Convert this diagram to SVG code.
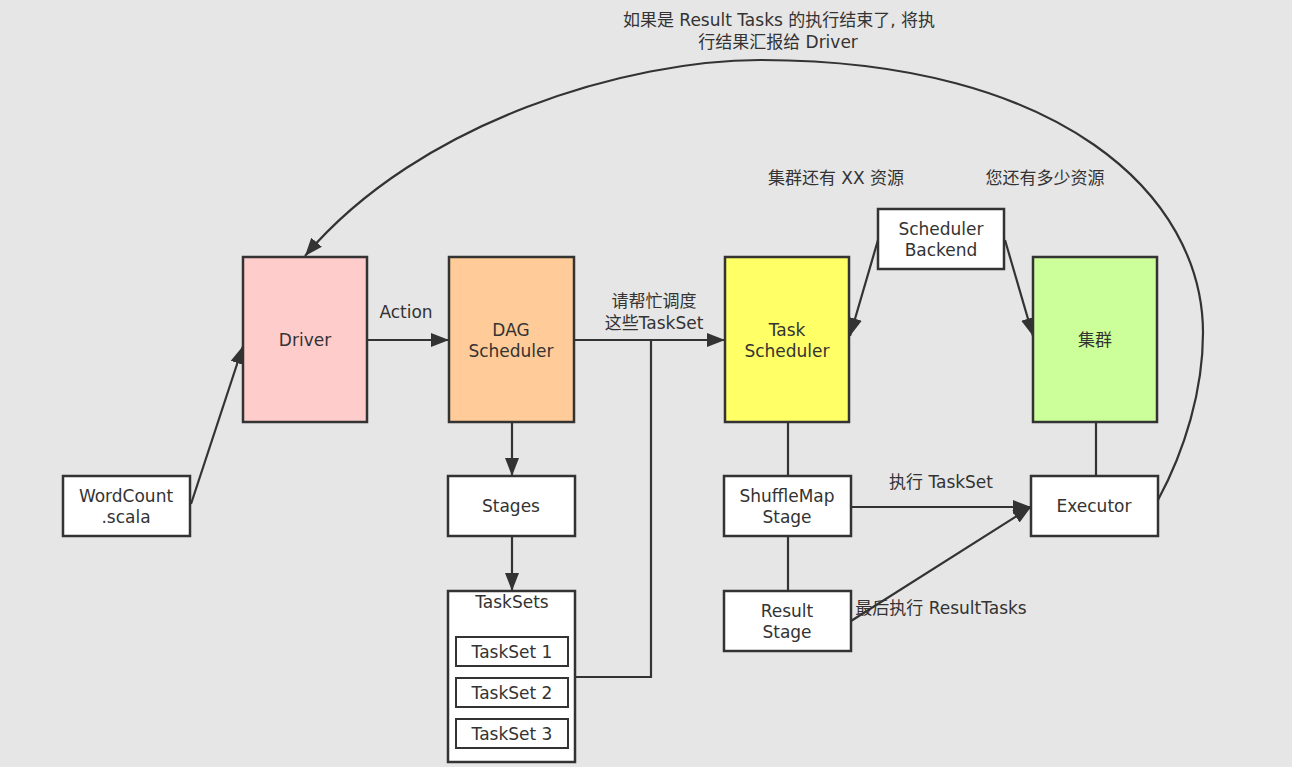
<svg xmlns="http://www.w3.org/2000/svg" width="1292" height="767" viewBox="0 0 1292 767">
  <style>
    text { font-family: "DejaVu Sans", "Noto Sans CJK SC", sans-serif; font-size: 17px; fill: #333; text-anchor: middle; dominant-baseline: central; }
    .box { stroke: #333; stroke-width: 2.5; fill: #fff; }
    .edge { stroke: #333; stroke-width: 2.2; fill: none; }
    .arrow { marker-end: url(#head); }
  </style>
  <defs>
    <marker id="head" markerUnits="userSpaceOnUse" markerWidth="18" markerHeight="14" refX="18" refY="7" orient="auto">
      <path d="M0,0 L18,7 L0,14 z" fill="#333"/>
    </marker>
  </defs>

  <rect x="0" y="0" width="1292" height="767" fill="#e6e6e6"/>

  <!-- connectors -->
  <g id="connectors">
    <line class="edge arrow" x1="191" y1="504" x2="243" y2="346"/>
    <line class="edge arrow" x1="368" y1="340" x2="449" y2="340"/>
    <line class="edge arrow" x1="574" y1="340" x2="725" y2="340"/>
    <polyline class="edge" points="575,677 651,677 651,340"/>
    <line class="edge arrow" x1="512" y1="423" x2="512" y2="476"/>
    <line class="edge arrow" x1="512" y1="537" x2="512" y2="591"/>
    <line class="edge arrow" x1="878" y1="240" x2="850" y2="336"/>
    <line class="edge arrow" x1="1005" y1="240" x2="1033" y2="336"/>
    <line class="edge" x1="788" y1="423" x2="788" y2="476"/>
    <line class="edge" x1="788" y1="537" x2="788" y2="591"/>
    <line class="edge" x1="1096" y1="423" x2="1096" y2="476"/>
    <line class="edge arrow" x1="851" y1="507" x2="1031" y2="507"/>
    <line class="edge arrow" x1="851" y1="621" x2="1031" y2="507"/>
    <path class="edge arrow" d="M1158,500 C1185,450 1203,390 1203,333 C1203,195 1060,60 760,60 C630,60 420,120 305,256"/>
    <text x="406" y="312">Action</text>
    <text x="654" y="301">请帮忙调度</text>
    <text x="654" y="323">这些TaskSet</text>
    <text x="941" y="482">执行 TaskSet</text>
    <text x="941" y="608">最后执行 ResultTasks</text>
    <text x="779" y="20">如果是 Result Tasks 的执行结束了, 将执</text>
    <text x="778" y="42">行结果汇报给 Driver</text>
    <text x="836" y="178">集群还有 XX 资源</text>
    <text x="1045" y="178">您还有多少资源</text>
  </g>

  <g id="wordcount">
    <rect class="box" x="63" y="476" width="127" height="60"/>
    <text x="126" y="496">WordCount</text>
    <text x="126" y="517">.scala</text>
  </g>

  <g id="driver">
    <rect class="box" x="243" y="257" width="124" height="165" style="fill:#ffcccc"/>
    <text x="305" y="340">Driver</text>
  </g>

  <g id="dag-scheduler">
    <rect class="box" x="449" y="257" width="125" height="165" style="fill:#ffcc99"/>
    <text x="511" y="330">DAG</text>
    <text x="511" y="351">Scheduler</text>
  </g>

  <g id="stages">
    <rect class="box" x="448" y="476" width="127" height="60"/>
    <text x="511" y="506">Stages</text>
  </g>

  <g id="tasksets">
    <rect class="box" x="448" y="591" width="127" height="171"/>
    <text x="512" y="602">TaskSets</text>
    <rect class="box" x="456" y="637" width="112" height="29" style="stroke-width:2"/>
    <text x="512" y="652">TaskSet 1</text>
    <rect class="box" x="456" y="678" width="112" height="29" style="stroke-width:2"/>
    <text x="512" y="693">TaskSet 2</text>
    <rect class="box" x="456" y="719" width="112" height="29" style="stroke-width:2"/>
    <text x="512" y="734">TaskSet 3</text>
  </g>

  <g id="task-scheduler">
    <rect class="box" x="725" y="257" width="124" height="165" style="fill:#ffff66"/>
    <text x="787" y="330">Task</text>
    <text x="787" y="351">Scheduler</text>
  </g>

  <g id="scheduler-backend">
    <rect class="box" x="878" y="209" width="126" height="60"/>
    <text x="941" y="229">Scheduler</text>
    <text x="941" y="250">Backend</text>
  </g>

  <g id="cluster">
    <rect class="box" x="1033" y="257" width="124" height="165" style="fill:#ccff99"/>
    <text x="1095" y="340">集群</text>
  </g>

  <g id="shufflemap-stage">
    <rect class="box" x="724" y="476" width="127" height="60"/>
    <text x="787" y="496">ShuffleMap</text>
    <text x="787" y="517">Stage</text>
  </g>

  <g id="result-stage">
    <rect class="box" x="724" y="591" width="127" height="60"/>
    <text x="787" y="611">Result</text>
    <text x="787" y="632">Stage</text>
  </g>

  <g id="executor">
    <rect class="box" x="1031" y="476" width="127" height="60"/>
    <text x="1094" y="506">Executor</text>
  </g>
</svg>
